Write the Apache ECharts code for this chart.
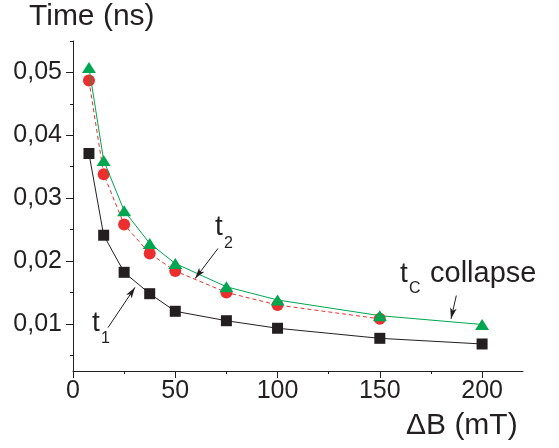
<!DOCTYPE html>
<html>
<head>
<meta charset="utf-8">
<script src="https://cdn.jsdelivr.net/npm/echarts@6/dist/echarts.min.js"></script>
<style>
html,body{margin:0;padding:0;background:#fff;}
#c{width:559px;height:448px;}
</style>
</head>
<body>
<div id="c"></div>
<script>
// ---- data ----
var fieldB = [7.8, 15, 25, 37.5, 50, 75, 100, 150, 200];
var t1 = [0.0371, 0.0241, 0.0182, 0.0148, 0.0120, 0.0105, 0.0093, 0.0077, 0.0068];
var fieldB2 = [7.8, 15, 25, 37.5, 50, 75, 100, 150];
var t2 = [0.0487, 0.0338, 0.0258, 0.0212, 0.0184, 0.0150, 0.0130, 0.0108];
var tc = [0.0508, 0.0360, 0.0280, 0.0228, 0.0196, 0.0159, 0.0138, 0.0113, 0.0099];
var xMajorTicks = [0, 50, 100, 150, 200];
var xMinorTicks = [25, 75, 125, 175];
var yMajorTicks = [0.01, 0.02, 0.03, 0.04, 0.05];
var yMinorTicks = [0.005, 0.015, 0.025, 0.035, 0.045, 0.055];

function pairs(xs, ys){ return xs.map(function(x,i){ return [x, ys[i]]; }); }

var ink = '#231f20';
var FONT = 'Liberation Sans, Arial, Helvetica, sans-serif';
var chart = echarts.init(document.getElementById('c'), null, {renderer:'canvas'});

var baseX = {type:'value', min:0, max:220, position:'bottom', splitLine:{show:false}};
var baseY = {type:'value', min:0.0025, max:0.055, position:'left', splitLine:{show:false}};

chart.setOption({
  animation:false,
  backgroundColor:'#fff',
  grid:{left:73, right:36, top:41, bottom:77, containLabel:false},
  xAxis:[
    Object.assign({}, baseX, {
      axisLine:{show:true, lineStyle:{color:ink, width:1}},
      axisTick:{show:true, inside:false, length:7, customValues:xMajorTicks, lineStyle:{color:ink, width:1}},
      axisLabel:{show:true, customValues:xMajorTicks, margin:8, color:ink, fontSize:25, fontFamily:FONT}
    }),
    Object.assign({}, baseX, {
      axisLine:{show:false},
      axisTick:{show:true, inside:false, length:3, customValues:xMinorTicks, lineStyle:{color:ink, width:1}},
      axisLabel:{show:false}
    })
  ],
  yAxis:[
    Object.assign({}, baseY, {
      axisLine:{show:true, lineStyle:{color:ink, width:1}},
      axisTick:{show:true, inside:false, length:7, customValues:yMajorTicks, lineStyle:{color:ink, width:1}},
      axisLabel:{show:true, customValues:yMajorTicks, margin:11, color:ink, fontSize:25, fontFamily:FONT,
        formatter:function(v){ return v.toFixed(2).replace('.', ','); }}
    }),
    Object.assign({}, baseY, {
      axisLine:{show:false},
      axisTick:{show:true, inside:false, length:3, customValues:yMinorTicks, lineStyle:{color:ink, width:1}},
      axisLabel:{show:false}
    })
  ],
  series:[
    {
      name:'t1', type:'line', xAxisIndex:0, yAxisIndex:0,
      data:pairs(fieldB, t1),
      symbol:'rect', symbolSize:11,
      lineStyle:{color:ink, width:1},
      itemStyle:{color:ink},
      z:2,
      markLine:{
        silent:true, animation:false,
        label:{show:false},
        lineStyle:{color:ink, width:1, type:'solid'},
        symbolSize:[5,11],
        data:[
          [{coord:[70.9, 0.0220], symbol:'none'}, {coord:[59.7, 0.0172], symbol:'arrow'}],
          [{coord:[17.1, 0.0094], symbol:'none'}, {coord:[30.3, 0.0158], symbol:'arrow'}],
          [{coord:[187.4, 0.0145], symbol:'none'}, {coord:[184.8, 0.0108], symbol:'arrow'}]
        ]
      }
    },
    {
      name:'t2', type:'line', xAxisIndex:0, yAxisIndex:0,
      data:pairs(fieldB2, t2),
      symbol:'circle', symbolSize:12,
      lineStyle:{color:'#ec2e2e', width:1, type:[4,3]},
      itemStyle:{color:'#ec2e2e'},
      z:3
    },
    {
      name:'tc', type:'line', xAxisIndex:0, yAxisIndex:0,
      data:pairs(fieldB, tc),
      symbol:'triangle', symbolSize:[14,11],
      lineStyle:{color:'#00a650', width:1},
      itemStyle:{color:'#00a650'},
      z:4
    }
  ],
  graphic:[
    {type:'text', left:29, top:2, style:{text:'Time (ns)', fill:ink, fontSize:30, fontFamily:FONT}},
    {type:'text', left:406, top:411, style:{text:'\u0394B (mT)', fill:ink, fontSize:30, fontFamily:FONT}},
    {type:'text', left:215, top:213, style:{text:'t', fill:ink, fontSize:28, fontFamily:FONT}},
    {type:'text', left:224, top:236, style:{text:'2', fill:ink, fontSize:16, fontFamily:FONT}},
    {type:'text', left:92, top:309, style:{text:'t', fill:ink, fontSize:28, fontFamily:FONT}},
    {type:'text', left:101, top:331, style:{text:'1', fill:ink, fontSize:16, fontFamily:FONT}},
    {type:'text', left:400, top:260, style:{text:'t', fill:ink, fontSize:28, fontFamily:FONT}},
    {type:'text', left:409, top:281, style:{text:'C', fill:ink, fontSize:16, fontFamily:FONT}},
    {type:'text', left:430, top:259, style:{text:'collapse', fill:ink, fontSize:29, fontFamily:FONT}}
  ]
});
</script>
</body>
</html>
